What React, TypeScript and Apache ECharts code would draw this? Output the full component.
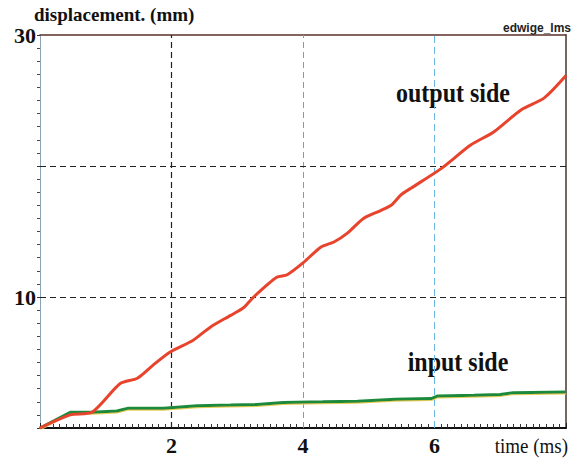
import React, { useEffect, useRef } from "react";
import * as echarts from "echarts";

const outputTime = [0, 0.46, 0.79, 1.22, 1.48, 1.72, 1.98, 2.33, 2.59, 2.9, 3.1, 3.25, 3.6, 3.76, 4.0, 4.27, 4.47, 4.68, 4.92, 5.18, 5.34, 5.49, 5.64, 6.1, 6.55, 6.9, 7.32, 7.67, 8.0];
const outputDisp = [0, 1.0, 1.2, 3.4, 3.8, 4.8, 5.8, 6.7, 7.7, 8.6, 9.2, 10.0, 11.5, 11.7, 12.6, 13.8, 14.2, 14.9, 16.0, 16.6, 17.0, 17.8, 18.3, 19.8, 21.6, 22.6, 24.3, 25.2, 26.9];
const inputTime = [0, 0.46, 0.79, 1.17, 1.33, 1.88, 2.39, 2.9, 3.3, 3.7, 4.3, 4.83, 5.4, 5.95, 6.05, 6.6, 7.0, 7.2, 8.0];
const inputDisp = [0, 1.2, 1.2, 1.3, 1.5, 1.5, 1.7, 1.75, 1.8, 1.95, 2.0, 2.05, 2.2, 2.25, 2.45, 2.5, 2.55, 2.7, 2.75];
const xTickLabels = [2, 4, 6];
const yTickLabels = [10, 30];
const seriesNames = ["output side", "input side"];
const axisTitles = { y: "displacement. (mm)", x: "time (ms)", file: "edwige_lms" };

const SERIF = "Liberation Serif";

export default function App() {
  const ref = useRef<HTMLDivElement>(null);
  useEffect(() => {
    document.body.style.margin = "0";
    const chart = echarts.init(ref.current!, null, { renderer: "svg" });
    const outData = outputTime.map((t, i) => [t, outputDisp[i]]);
    const inData = inputTime.map((t, i) => [t, inputDisp[i]]);
    chart.setOption({
      animation: false,
      backgroundColor: "#ffffff",
      grid: { left: 40, right: 5, top: 35, bottom: 32 },
      xAxis: [
        {
          type: "value",
          min: 0,
          max: 8,
          interval: 2,
          axisLine: { lineStyle: { color: "#111", width: 2 } },
          axisTick: { show: true, inside: true, length: 5, lineStyle: { color: "#222" } },
          minorTick: { show: true, splitNumber: 20, length: 4, lineStyle: { color: "#333" } },
          splitLine: { show: false },
          axisLabel: {
            formatter: (v: number) => (xTickLabels.includes(v) ? String(v) : ""),
            fontFamily: SERIF,
            fontWeight: "bold",
            fontSize: 22,
            color: "#111",
            margin: 6,
          },
        },
        {
          type: "value",
          position: "top",
          min: 0,
          max: 8,
          axisLine: { show: true, onZero: false, lineStyle: { color: "#5a3028", width: 1.5 } },
          axisTick: { show: false },
          axisLabel: { show: false },
          splitLine: { show: false },
        },
      ],
      yAxis: [
        {
          type: "value",
          min: 0,
          max: 30,
          interval: 10,
          axisLine: { show: true, lineStyle: { color: "#8aa3b5", width: 1 } },
          axisTick: { show: true, inside: false, length: 3, lineStyle: { color: "#333" } },
          minorTick: { show: true, splitNumber: 10, length: 3, lineStyle: { color: "#445" } },
          splitLine: { show: false },
          axisLabel: {
            formatter: (v: number) => (yTickLabels.includes(v) ? String(v) : ""),
            fontFamily: SERIF,
            fontWeight: "bold",
            fontSize: 22,
            color: "#111",
            margin: 4,
          },
          name: axisTitles.y,
          nameLocation: "end",
          nameGap: 6,
          nameTextStyle: {
            fontFamily: SERIF,
            fontWeight: "bold",
            fontSize: 19,
            color: "#111",
            align: "left",
            padding: [0, 0, 0, -6],
          },
        },
        {
          type: "value",
          position: "right",
          min: 0,
          max: 30,
          axisLine: { show: true, onZero: false, lineStyle: { color: "#4a3530", width: 1.5 } },
          axisTick: { show: false },
          axisLabel: { show: false },
          splitLine: { show: false },
        },
      ],
      series: [
        {
          name: seriesNames[0],
          type: "line",
          data: outData,
          symbol: "none",
          smooth: 0.25,
          lineStyle: { color: "#e8432c", width: 3 },
          z: 5,
          markLine: {
            silent: true,
            symbol: "none",
            label: { show: false },
            z: 1,
            data: [
              { xAxis: 2, lineStyle: { color: "#222", type: [6, 4], width: 1.2 } },
              { xAxis: 4, lineStyle: { color: "#8a98a8", type: [6, 4], width: 1 } },
              { xAxis: 6, lineStyle: { color: "#6ab8e0", type: [7, 4], width: 1 } },
              { yAxis: 10, lineStyle: { color: "#222", type: [6, 4], width: 1.2 } },
              { yAxis: 20, lineStyle: { color: "#222", type: [6, 4], width: 1.2 } },
            ],
          },
        },
        {
          name: seriesNames[1],
          type: "line",
          data: inData,
          symbol: "none",
          lineStyle: {
            color: "#1f8a3c",
            width: 3,
            shadowColor: "#e6cf5a",
            shadowOffsetY: 1,
            shadowBlur: 0,
          },
          z: 4,
        },
      ],
      graphic: [
        {
          type: "text",
          x: 453,
          y: 93,
          scaleY: 1.15,
          style: {
            text: seriesNames[0],
            textAlign: "center",
            textVerticalAlign: "middle",
            fontFamily: SERIF,
            fontWeight: "bold",
            fontSize: 24,
            fill: "#111",
          },
        },
        {
          type: "text",
          x: 458,
          y: 362,
          scaleY: 1.15,
          style: {
            text: seriesNames[1],
            textAlign: "center",
            textVerticalAlign: "middle",
            fontFamily: SERIF,
            fontWeight: "bold",
            fontSize: 24,
            fill: "#111",
          },
        },
        {
          type: "text",
          x: 568,
          y: 446,
          scaleY: 1.1,
          style: {
            text: axisTitles.x,
            textAlign: "right",
            textVerticalAlign: "middle",
            fontFamily: SERIF,
            fontSize: 19,
            fill: "#111",
          },
        },
        {
          type: "text",
          x: 571,
          y: 28,
          style: {
            text: axisTitles.file,
            textAlign: "right",
            textVerticalAlign: "middle",
            fontFamily: "Liberation Sans",
            fontWeight: "bold",
            fontSize: 12,
            fill: "#222",
          },
        },
      ],
    });
    return () => chart.dispose();
  }, []);
  return <div ref={ref} style={{ width: 571, height: 460 }} />;
}
